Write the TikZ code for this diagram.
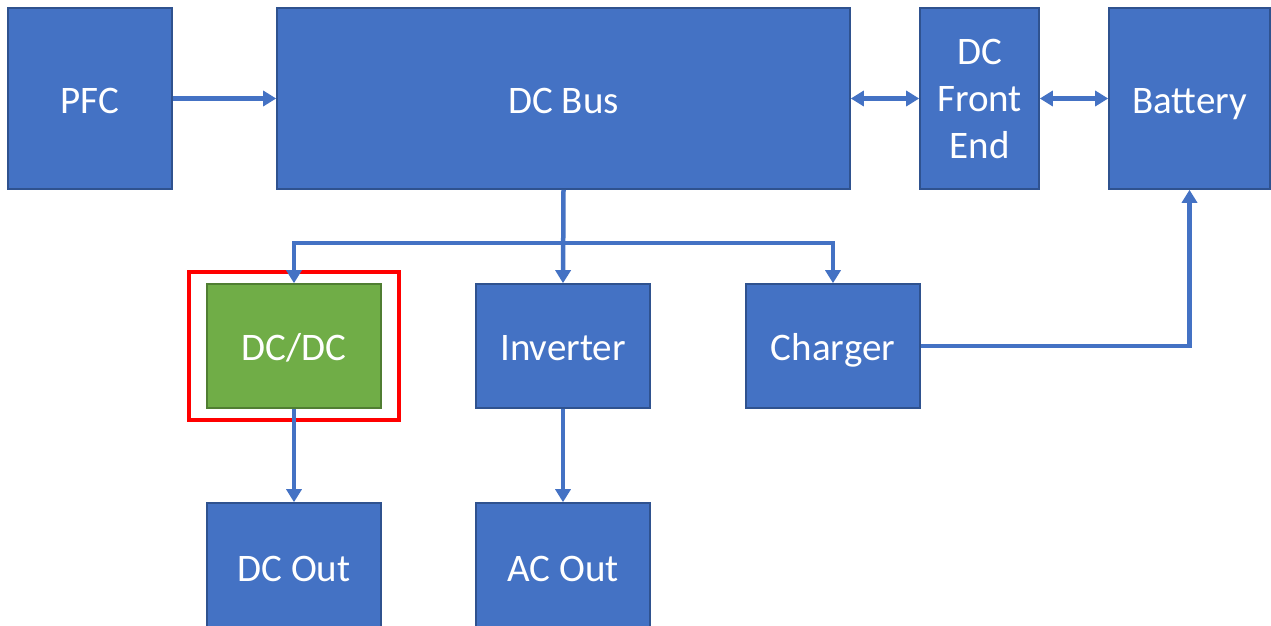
\documentclass[tikz,border=0pt]{standalone}
\usepackage{fontspec}
\setmainfont{Carlito}
\usetikzlibrary{arrows.meta,fit}

\definecolor{boxblue}{HTML}{4472C4}
\definecolor{boxedge}{HTML}{2F528F}
\definecolor{boxgreen}{HTML}{70AD47}
\definecolor{greenedge}{HTML}{507E32}

\begin{document}
\begin{tikzpicture}[x=1pt,y=-1pt,
    block/.style={draw=boxedge,fill=boxblue,line width=1.6pt,text=white,
        align=center,inner sep=0pt,font=\fontsize{39}{47}\selectfont},
    oneline/.style={text height=29pt,text depth=0pt},
    link/.style={draw=boxblue,line width=4.5pt,
        -{Triangle[width=15pt,length=13pt]}},
    duplex/.style={link,{Triangle[width=15pt,length=13pt]}-{Triangle[width=15pt,length=13pt]}}]
    \clip (0,0) rectangle (1271,626);
    \fill[white] (0,0) rectangle (1271,626);

    % top row
    \node[block,oneline,minimum width=164pt,minimum height=181pt] (pfc) at (90,98.5) {PFC};
    \node[block,oneline,minimum width=573pt,minimum height=181pt] (bus) at (563.5,98.5) {DC Bus};
    \node[block,minimum width=119pt,minimum height=181pt] (front) at (979.5,98.5) {DC\\Front\\End};
    \node[block,oneline,minimum width=161pt,minimum height=181pt] (batt) at (1189.5,98.5) {Battery};

    % converters
    \node[block,oneline,fill=boxgreen,draw=greenedge,minimum width=174pt,minimum height=124pt] (dcdc) at (294,346) {DC/DC};
    \node[block,oneline,minimum width=174pt,minimum height=124pt] (inv) at (563,346) {Inverter};
    \node[block,oneline,minimum width=174pt,minimum height=124pt] (chg) at (833,346) {Charger};

    % outputs, running off the bottom
    \node[block,minimum width=174pt,minimum height=160pt] (dcout) at (294,583) {};
    \node[block,minimum width=174pt,minimum height=160pt] (acout) at (563,583) {};
    \node[white,oneline,inner sep=0pt,font=\fontsize{39}{47}\selectfont] at (294,567) {DC Out};
    \node[white,oneline,inner sep=0pt,font=\fontsize{39}{47}\selectfont] at (563,567) {AC Out};

    % highlight
    \node[draw=red,line width=4pt,fit=(dcdc),inner xsep=17.5pt,inner ysep=11.5pt] (mark) {};

    \draw[link] (pfc) -- (bus);
    \draw[duplex] (bus) -- (front);
    \draw[duplex] (front) -- (batt);

    \coordinate (split) at (563.5,243);
    \draw[link] (bus.south) -- (inv.north);
    \draw[link] (split) -| (dcdc.north);
    \draw[link] (split) -| (chg.north);
    \draw[link] (chg.east) -| (batt.south);

    \draw[link] (dcdc) -- (dcout);
    \draw[link] (inv) -- (acout);
\end{tikzpicture}
\end{document}
